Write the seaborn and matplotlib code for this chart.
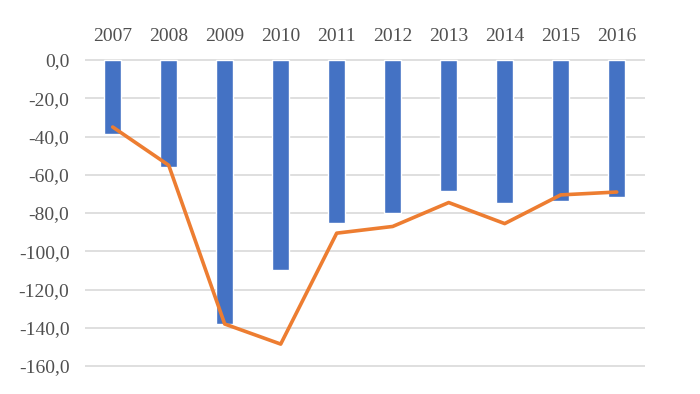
import numpy as np
import seaborn as sns
from matplotlib import pyplot as plt
from matplotlib.ticker import FuncFormatter

# values
years = [2007, 2008, 2009, 2010, 2011, 2012, 2013, 2014, 2015, 2016]
bars = [-38.5, -56.0, -138.0, -110.0, -85.0, -80.0, -68.5, -74.5, -73.5, -71.5]
line = [-35.0, -55.0, -138.0, -148.5, -90.5, -87.0, -74.5, -85.5, -70.5, -69.0]

sns.set_style('white')
plt.rcParams['font.family'] = ['Liberation Serif', 'DejaVu Serif']

fig = plt.figure(figsize=(7, 3.94), dpi=100)
ax = fig.add_axes([0.121, 0.066, 0.8, 0.784])

sns.barplot(x=years, y=bars, native_scale=True, width=0.3, color='#4472C4',
            saturation=1, ax=ax, zorder=2)
sns.lineplot(x=years, y=line, color='#ED7D31', linewidth=2.6, ax=ax, zorder=3)

ax.set_xlim(2006.5, 2016.5)
ax.set_ylim(-161, 0.5)
ax.set_yticks(np.arange(-160, 1, 20))
# comma as decimal separator, e.g. "-20,0"
ax.yaxis.set_major_formatter(FuncFormatter(lambda v, p: f'{v:.1f}'.replace('.', ',')))
ax.set_xticks(years)
ax.set_xticklabels([str(y) for y in years])
ax.xaxis.tick_top()
ax.tick_params(axis='both', length=0, labelsize=14, colors='#505050')
ax.tick_params(axis='x', pad=10)
ax.tick_params(axis='y', pad=11)
ax.grid(axis='y', color='#d9d9d9', linewidth=1.2, zorder=0)
ax.set_axisbelow(True)
for s in ax.spines.values():
    s.set_visible(False)

fig.savefig('out.png', dpi=100)
